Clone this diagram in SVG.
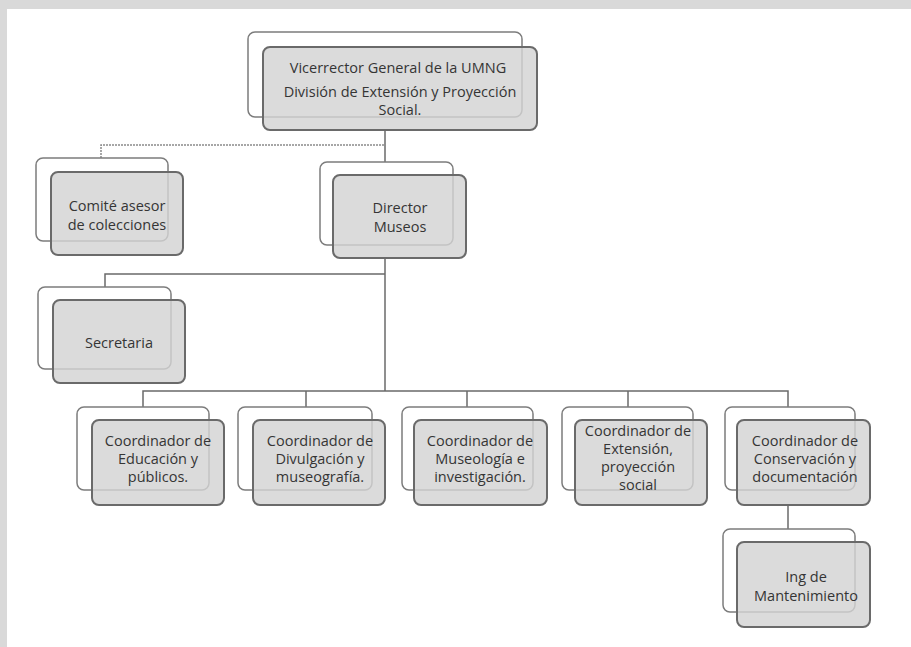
<svg xmlns="http://www.w3.org/2000/svg" width="911" height="647" viewBox="0 0 911 647">
<style>
.bk{fill:#ffffff;stroke:#7c7c7c;stroke-width:1.5}
.fr{fill:#d3d3d3;fill-opacity:0.82;stroke:#6a6a6a;stroke-width:2}
.t{font-family:"Open Sans","DejaVu Sans",sans-serif;font-size:14.5px;fill:#353535;text-anchor:middle}
.ln{stroke:#6a6a6a;stroke-width:1.5;fill:none}
.dl{stroke:#8a8a8a;stroke-width:1.5;fill:none;stroke-dasharray:2 1}
</style>
<rect x="0" y="0" width="911" height="647" fill="#ffffff"/>
<rect x="0" y="0" width="911" height="9" fill="#d9d9d9"/>
<rect x="0" y="0" width="7" height="647" fill="#d9d9d9"/>
<g id="connectors">
<path class="dl" d="M101 158 V145 H385"/>
<path class="ln" d="M385 130 V162"/>
<path class="ln" d="M385 258 V391"/>
<path class="ln" d="M105 287 V274 H385"/>
<path class="ln" d="M143 407 V391 H788 V407"/>
<path class="ln" d="M306 391 V407"/>
<path class="ln" d="M467 391 V407"/>
<path class="ln" d="M628 391 V407"/>
<path class="ln" d="M788 505 V529"/>
</g>
<g id="vicerrector">
<rect class="bk" x="248" y="32" width="274" height="85" rx="7"/>
<rect class="fr" x="263" y="47" width="274" height="83" rx="7"/>
<text class="t" x="398" y="73">Vicerrector General de la UMNG</text>
<text class="t" x="400" y="97">División de Extensión y Proyección</text>
<text class="t" x="400" y="115">Social.</text>
</g>
<g id="comite">
<rect class="bk" x="36" y="158" width="132" height="83" rx="7"/>
<rect class="fr" x="51" y="172" width="132" height="83" rx="7"/>
<text class="t" x="117" y="211">Comité asesor</text>
<text class="t" x="117" y="230">de colecciones</text>
</g>
<g id="director">
<rect class="bk" x="320" y="162" width="133" height="83" rx="7"/>
<rect class="fr" x="333" y="175" width="133" height="83" rx="7"/>
<text class="t" x="400" y="213">Director</text>
<text class="t" x="400" y="232">Museos</text>
</g>
<g id="secretaria">
<rect class="bk" x="38" y="287" width="133" height="82" rx="7"/>
<rect class="fr" x="53" y="300" width="132" height="83" rx="7"/>
<text class="t" x="119" y="348">Secretaria</text>
</g>
<g id="coord-educacion">
<rect class="bk" x="77" y="407" width="132" height="83" rx="7"/>
<rect class="fr" x="92" y="420" width="132" height="85" rx="7"/>
<text class="t" x="158" y="446">Coordinador de</text>
<text class="t" x="158" y="464">Educación y</text>
<text class="t" x="158" y="482">públicos.</text>
</g>
<g id="coord-divulgacion">
<rect class="bk" x="238" y="407" width="134" height="83" rx="7"/>
<rect class="fr" x="253" y="420" width="132" height="85" rx="7"/>
<text class="t" x="320" y="446">Coordinador de</text>
<text class="t" x="320" y="464">Divulgación y</text>
<text class="t" x="320" y="482">museografía.</text>
</g>
<g id="coord-museologia">
<rect class="bk" x="402" y="407" width="131" height="83" rx="7"/>
<rect class="fr" x="414" y="420" width="133" height="85" rx="7"/>
<text class="t" x="480" y="446">Coordinador de</text>
<text class="t" x="480" y="464">Museología e</text>
<text class="t" x="480" y="482">investigación.</text>
</g>
<g id="coord-extension">
<rect class="bk" x="562" y="407" width="131" height="83" rx="7"/>
<rect class="fr" x="575" y="420" width="132" height="85" rx="7"/>
<text class="t" x="638" y="436">Coordinador de</text>
<text class="t" x="638" y="454">Extensión,</text>
<text class="t" x="638" y="472">proyección</text>
<text class="t" x="638" y="490">social</text>
</g>
<g id="coord-conservacion">
<rect class="bk" x="725" y="407" width="130" height="83" rx="7"/>
<rect class="fr" x="737" y="420" width="133" height="85" rx="7"/>
<text class="t" x="805" y="446">Coordinador de</text>
<text class="t" x="805" y="464">Conservación y</text>
<text class="t" x="805" y="482">documentación</text>
</g>
<g id="ing-mantenimiento">
<rect class="bk" x="723" y="529" width="132" height="83" rx="7"/>
<rect class="fr" x="737" y="542" width="133" height="85" rx="7"/>
<text class="t" x="806" y="582">Ing de</text>
<text class="t" x="806" y="601">Mantenimiento</text>
</g>
</svg>
